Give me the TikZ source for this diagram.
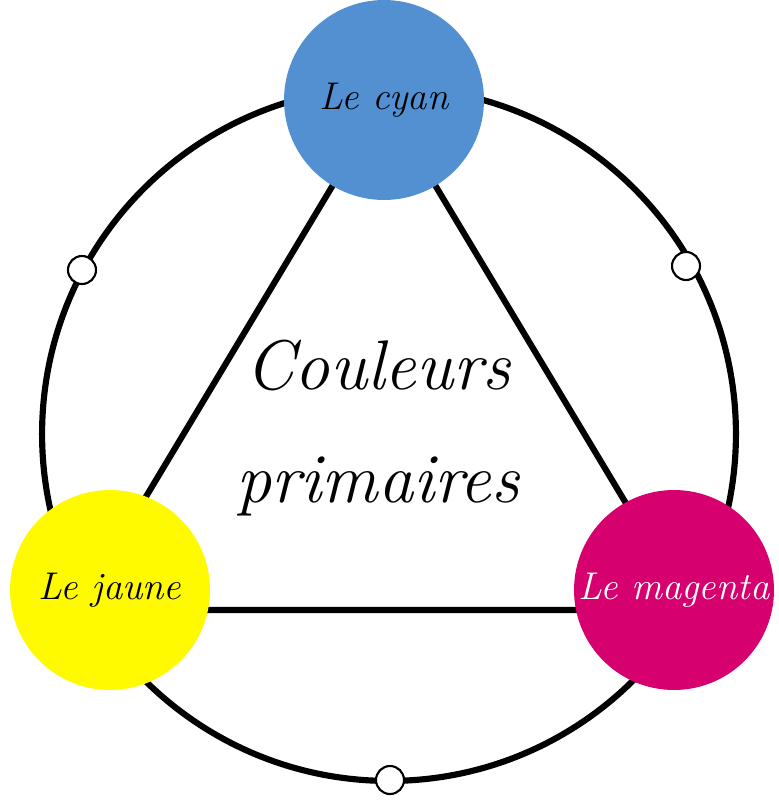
\documentclass[tikz,border=0pt]{standalone}
\usepackage{fontspec}
\usetikzlibrary{positioning}
\definecolor{cyanblue}{RGB}{83,144,210}
\definecolor{jaunecol}{RGB}{255,250,0}
\definecolor{magcol}{RGB}{214,0,110}
\tikzset{
	couleur/.style={
		circle, minimum size=4cm, inner sep=0pt, font=\itshape\fontsize{22}{26}\selectfont
	},
	%
	petit/.style={
		circle, minimum size=0.56cm, inner sep=0pt, draw=black, line width=1.2pt, fill=white
	},
	%
	trait/.style={
		line width=3.5pt, black
	}
}
\begin{document}
\begin{tikzpicture}[x=0.02cm, y=-0.02cm]
    \useasboundingbox (0,0) rectangle (778,800);
    \node(roue)[circle, draw, line width=3.5pt, minimum size=13.88cm, inner sep=0pt] at (389,434){};
    \coordinate(H) at (384,100);
    \coordinate(G) at (78,610);
    \coordinate(D) at (690,610);
    \draw[trait] (H) -- (G) -- (D) -- cycle;
    \node(cyan)[couleur, fill=cyanblue] at (384,100){Le cyan};
    \node(jaune)[couleur, fill=jaunecol] at (110,590){Le jaune};
    \node(magenta)[couleur, fill=magcol, text=white] at (674,590){Le magenta};
    \node(p1)[petit] at (82,270){};
    \node(p2)[petit] at (686,266){};
    \node(p3)[petit] at (390,780){};
    \node(titre)[align=center, font=\itshape\fontsize{40}{64}\selectfont] at (378,428){Couleurs\\primaires};
\end{tikzpicture}
\end{document}
